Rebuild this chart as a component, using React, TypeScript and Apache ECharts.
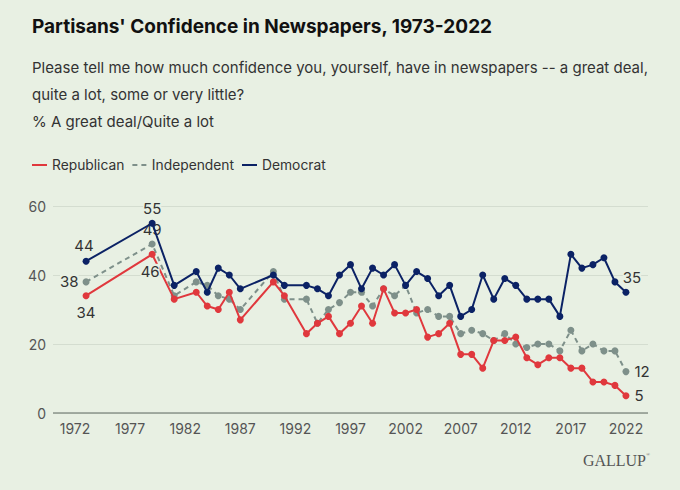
import { useEffect, useRef } from "react";
import * as echarts from "echarts";

const years = [
  1973, 1979, 1981, 1983, 1984, 1985, 1986, 1987, 1990, 1991, 1993, 1994, 1995,
  1996, 1997, 1998, 1999, 2000, 2001, 2002, 2003, 2004, 2005, 2006, 2007, 2008,
  2009, 2010, 2011, 2012, 2013, 2014, 2015, 2016, 2017, 2018, 2019, 2020, 2021,
  2022,
];
const republican = [
  34, 46, 33, 35, 31, 30, 35, 27, 38, 34, 23, 26, 28, 23, 26, 31, 26, 36, 29, 29,
  30, 22, 23, 26, 17, 17, 13, 21, 21, 22, 16, 14, 16, 16, 13, 13, 9, 9, 8, 5,
];
const independent = [
  38, 49, 34, 38, 37, 34, 33, 30, 41, 33, 33, 26, 30, 32, 35, 35, 31, 36, 34, 37,
  29, 30, 28, 28, 23, 24, 23, 21, 23, 20, 19, 20, 20, 18, 24, 18, 20, 18, 18, 12,
];
const democrat = [
  44, 55, 37, 41, 35, 42, 40, 36, 40, 37, 37, 36, 34, 40, 43, 36, 42, 40, 43, 37,
  41, 39, 34, 37, 28, 30, 40, 33, 39, 37, 33, 33, 33, 28, 46, 42, 43, 45, 38, 35,
];
const xTicks = [1972, 1977, 1982, 1987, 1992, 1997, 2002, 2007, 2012, 2017, 2022];
const yTicks = [0, 20, 40, 60];

const BG = "#e8f0e3";
const FONT = "Inter";
const RED = "#e0383d";
const GRAY = "#7e908a";
const NAVY = "#0b2265";

const last = years.length - 1;

// which points get a value label, and where
const repLabels: Record<number, any> = {
  0: { position: "bottom", distance: 6 },
  1: { position: "bottom", distance: 6, offset: [-2, 0] },
  [last]: { position: "right", distance: 5 },
};
const indLabels: Record<number, any> = {
  0: { position: "left", distance: 4 },
  1: { position: "top", distance: 3 },
  [last]: { position: "right", distance: 5 },
};
const demLabels: Record<number, any> = {
  0: { position: "top", distance: 5, offset: [-2, 0] },
  1: { position: "top", distance: 4 },
  [last]: { position: "top", distance: 4, offset: [6, 0] },
};

function build(vals: number[], labels: Record<number, any>) {
  return years.map((y, i) => {
    const item: any = { value: [y, vals[i]] };
    if (labels[i]) {
      item.label = {
        show: true,
        color: "#333",
        fontFamily: FONT,
        fontSize: 15,
        backgroundColor: BG,
        ...labels[i],
      };
    }
    return item;
  });
}

function App() {
  const ref = useRef<HTMLDivElement>(null);

  useEffect(() => {
    document.body.style.margin = "0";
    if (!ref.current) return;
    const chart = echarts.init(ref.current, undefined, { renderer: "svg" });

    chart.setOption({
      animation: false,
      backgroundColor: BG,
      textStyle: { fontFamily: FONT },
      title: [
        {
          text: "Partisans' Confidence in Newspapers, 1973-2022",
          left: 32,
          top: 17,
          padding: 0,
          textStyle: { fontFamily: FONT, fontSize: 19, fontWeight: "bold", color: "#111" },
        },
        {
          text:
            "Please tell me how much confidence you, yourself, have in newspapers -- a great deal,\nquite a lot, some or very little?\n% A great deal/Quite a lot",
          left: 32,
          top: 54,
          padding: 0,
          textStyle: {
            fontFamily: FONT,
            fontSize: 15,
            fontWeight: "normal",
            color: "#333",
            lineHeight: 27,
          },
        },
      ],
      legend: {
        left: 32,
        top: 158,
        padding: 0,
        itemWidth: 15,
        itemHeight: 2,
        itemGap: 8,
        textStyle: { fontFamily: FONT, fontSize: 13.8, color: "#333" },
        data: [
          { name: "Republican", icon: "rect" },
          { name: "Independent", icon: "path://M0 0h5v2H0z M9 0h5v2H9z" },
          { name: "Democrat", icon: "rect" },
        ],
      },
      grid: { left: 53, right: 32, top: 206, bottom: 77 },
      xAxis: {
        type: "value",
        min: 1970,
        max: 2024,
        axisLine: { show: false },
        axisTick: { show: false },
        splitLine: { show: false },
        axisLabel: {
          customValues: xTicks,
          formatter: (v: number) => String(v),
          color: "#555",
          fontFamily: FONT,
          fontSize: 14,
          margin: 8,
        },
      },
      yAxis: {
        type: "value",
        min: 0,
        max: 60,
        interval: 20,
        axisLine: { show: false },
        axisTick: { show: false },
        axisLabel: {
          customValues: yTicks,
          color: "#555",
          fontFamily: FONT,
          fontSize: 14,
          margin: 7,
        },
        splitLine: { lineStyle: { color: "#d4ddd0", width: 1 } },
      },
      series: [
        {
          name: "Independent",
          type: "line",
          data: build(independent, indLabels),
          symbol: "circle",
          symbolSize: 7,
          color: GRAY,
          lineStyle: { color: GRAY, width: 2, type: [5, 4] },
          z: 2,
        },
        {
          name: "Republican",
          type: "line",
          data: build(republican, repLabels),
          symbol: "circle",
          symbolSize: 7,
          color: RED,
          lineStyle: { color: RED, width: 2 },
          z: 3,
        },
        {
          name: "Democrat",
          type: "line",
          data: build(democrat, demLabels),
          symbol: "circle",
          symbolSize: 7,
          color: NAVY,
          lineStyle: { color: NAVY, width: 2 },
          z: 4,
          markLine: {
            silent: true,
            symbol: "none",
            label: { show: false },
            lineStyle: { color: "#8b958b", width: 1.5, type: "solid" },
            data: [{ yAxis: 0 }],
          },
        },
      ],
      graphic: [
        {
          type: "text",
          right: 34,
          top: 452,
          style: {
            text: "GALLUP",
            font: '16px "Liberation Serif", "DejaVu Serif", serif',
            fill: "#555",
          },
        },
        {
          type: "text",
          right: 30,
          top: 452,
          style: {
            text: "®",
            font: '5px "Liberation Serif", serif',
            fill: "#555",
          },
        },
      ],
    });

    return () => {
      chart.dispose();
    };
  }, []);

  return <div ref={ref} style={{ width: "680px", height: "490px" }} />;
}

export default App;
